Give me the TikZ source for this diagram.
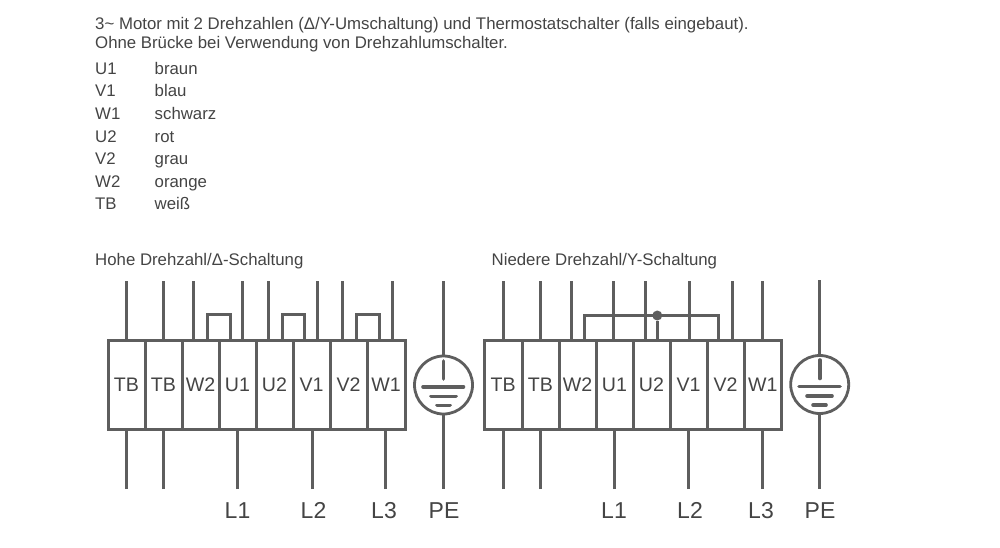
\documentclass[tikz,border=0pt]{standalone}
\usepackage{fontspec}
\setmainfont{Liberation Sans}
\definecolor{wire}{HTML}{5E5E5E}
\definecolor{ink}{HTML}{444444}
\tikzset{
  x=1pt,y=-1pt,
  conn/.style={draw=wire,line width=3pt,line cap=butt},
  gbar/.style={draw=wire,line width=3.6pt,line cap=round},
  term/.style={draw=wire,line width=3pt,rectangle,inner sep=0pt,outer sep=0pt,minimum height=88.5pt,text=ink,font=\fontsize{19.6}{20}\selectfont},
  para/.style={anchor=base west,inner sep=0pt,text=ink,font=\fontsize{16.8}{18}\selectfont},
  lab/.style={anchor=base,inner sep=0pt,text=ink,font=\fontsize{23}{24}\selectfont},
  earth/.style={circle,draw=wire,line width=2.8pt,minimum size=58pt,inner sep=0pt,outer sep=0pt},
  dot/.style={circle,fill=wire,minimum size=10pt,inner sep=0pt},
}
\newcommand{\termrow}[3]{%
  \foreach \nm/\txt/\xa/\xb in {#3}{%
    \pgfmathsetmacro{\cenx}{(\xa+\xb)/2}\pgfmathsetmacro{\widx}{\xb-\xa}%
    \node[term,minimum width=\widx pt] (#1\nm) at (\cenx,#2) {\txt};%
  }}
\newcommand{\wiretop}[3]{%
  \coordinate (#1) at (#3,281);\draw[conn] (#1) -- (#1 |- #2.north);}
\newcommand{\wirebot}[3]{%
  \coordinate (#1) at (#3,489);\draw[conn] (#1) -- (#1 |- #2.south);}
\begin{document}
\begin{tikzpicture}
\useasboundingbox (0,0) rectangle (1000,548);
\node[para] (h1) at (95,29.7) {3\char"007E\ Motor mit 2 Drehzahlen (Δ/Y-Umschaltung) und Thermostatschalter (falls eingebaut).};
\node[para] (h2) at (95,48.7) {Ohne Brücke bei Verwendung von Drehzahlumschalter.};
\foreach \n/\a/\b/\y in {a/U1/braun/74.7,b/V1/blau/96.7,c/W1/schwarz/119.7,d/U2/rot/142.3,e/V2/grau/164.7,f/W2/orange/187.3,g/TB/weiß/209.7}{
  \node[para] (k\n) at (95,\y) {\a};
  \node[para] (v\n) at (154.5,\y) {\b};
}
\node[para] (tl) at (95,265) {Hohe Drehzahl/Δ-Schaltung};
\node[para] (tr) at (491.5,265) {Niedere Drehzahl/Y-Schaltung};

% left block
\termrow{A}{385}{1/TB/108/145,2/TB/145/182,3/W2/182/219,4/U1/219/256,5/U2/256/293,6/V1/293/330,7/V2/330/367,8/W1/367/405}
\wiretop{Aw1}{A1}{126.7}\wiretop{Aw2}{A2}{163.3}\wiretop{Aw3}{A3}{193.3}\wiretop{Aw4}{A4}{242.3}
\wiretop{Aw5}{A5}{268.7}\wiretop{Aw6}{A6}{317.7}\wiretop{Aw7}{A7}{342.7}\wiretop{Aw8}{A8}{392.7}
\wirebot{Ab1}{A1}{126.7}\wirebot{Ab2}{A2}{163.3}\wirebot{Ab4}{A4}{237.3}\wirebot{Ab6}{A6}{312}\wirebot{Ab8}{A8}{385.3}
\coordinate (Aj1) at (207.3,314.5);\coordinate (Aj2) at (230,314.5);
\coordinate (Aj3) at (282,314.5);\coordinate (Aj4) at (304.7,314.5);
\coordinate (Aj5) at (356.7,314.5);\coordinate (Aj6) at (379,314.5);
\draw[conn] (Aj1 |- A3.north) -- (Aj1) -- (Aj2) -- (Aj2 |- A4.north);
\draw[conn] (Aj3 |- A5.north) -- (Aj3) -- (Aj4) -- (Aj4 |- A6.north);
\draw[conn] (Aj5 |- A7.north) -- (Aj5) -- (Aj6) -- (Aj6 |- A8.north);
% left earth
\node[earth] (Ae) at (443.5,385) {};
\coordinate (Apt) at (443.5,281);\coordinate (Apb) at (443.5,489);
\draw[conn] (Apt) -- (Ae.north);\draw[conn] (Ae.south) -- (Apb);
\draw[gbar] (443.5,361) -- (443.5,379);
\draw[gbar] (423,386.7) -- (463.5,386.7);
\draw[gbar] (431,396.3) -- (456,396.3);
\draw[gbar] (437,405.3) -- (450,405.3);
\node[lab] (AL1) at (237.5,518) {L1};
\node[lab] (AL2) at (313.5,518) {L2};
\node[lab] (AL3) at (384,518) {L3};
\node[lab] (APE) at (444,518) {PE};

% right block
\termrow{B}{385}{1/TB/484.5/522,2/TB/522/559,3/W2/559/596,4/U1/596/633,5/U2/633/670,6/V1/670/707.3,7/V2/707.3/744,8/W1/744/781.7}
\wiretop{Bw1}{B1}{503.3}\wiretop{Bw2}{B2}{540.3}\wiretop{Bw3}{B3}{571.7}\wiretop{Bw4}{B4}{613}
\wiretop{Bw5}{B5}{645.7}\wiretop{Bw6}{B6}{689}\wiretop{Bw7}{B7}{732.3}\wiretop{Bw8}{B8}{762}
\wirebot{Bb1}{B1}{503.3}\wirebot{Bb2}{B2}{540.3}\wirebot{Bb4}{B4}{614}\wirebot{Bb6}{B6}{688.7}\wirebot{Bb8}{B8}{762.7}
\coordinate (Bj1) at (584.3,315);\coordinate (Bj2) at (718,315);
\node[dot] (Bd) at (657.3,315.5) {};
\draw[conn] (Bj1 |- B3.north) -- (Bj1) -- (Bj2) -- (Bj2 |- B7.north);
\draw[conn] (Bd) -- (Bd |- B5.north);
% right earth
\node[earth] (Be) at (819.7,384.5) {};
\coordinate (Bpt) at (819.7,280);\coordinate (Bpb) at (819.7,489);
\draw[conn] (Bpt) -- (Be.north);\draw[conn] (Be.south) -- (Bpb);
\draw[gbar] (819.7,360) -- (819.7,378.5);
\draw[gbar] (799,386.5) -- (840,386.5);
\draw[gbar] (807,396) -- (832,396);
\draw[gbar] (813,405) -- (826,405);
\node[lab] (BL1) at (614,518) {L1};
\node[lab] (BL2) at (690,518) {L2};
\node[lab] (BL3) at (761,518) {L3};
\node[lab] (BPE) at (820,518) {PE};
\end{tikzpicture}
\end{document}
